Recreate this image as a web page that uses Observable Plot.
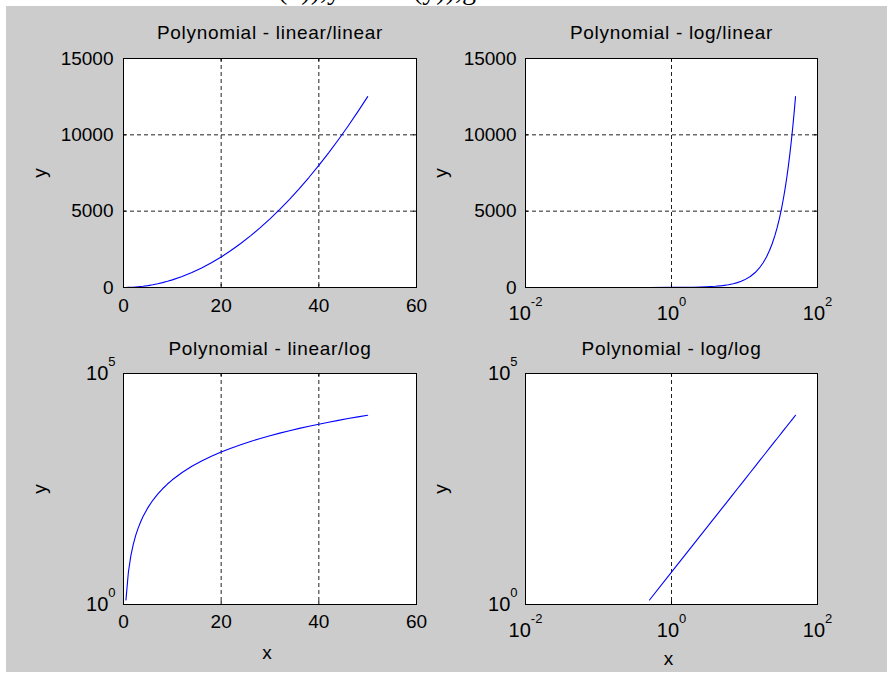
<!DOCTYPE html>
<html>
<head>
<meta charset="utf-8">
<script src="https://cdn.jsdelivr.net/npm/d3@7"></script>
<script src="https://cdn.jsdelivr.net/npm/@observablehq/plot@0.6"></script>
<style>
html, body { margin: 0; padding: 0; background: #fff; }
#page { position: relative; width: 887px; height: 673px; overflow: hidden; background: #fff; }
#grey { position: absolute; left: 6px; top: 6px; width: 881px; height: 666px; background: #cccccc; }
#page > svg { position: absolute; left: 0; top: 0; }
</style>
</head>
<body>
<div id="page">
  <div id="grey"></div>
  <svg id="cut" width="887" height="6" style="position:absolute;left:0;top:0;background:#fff">
    <text x="278" y="-1" font-family="Liberation Serif, Times New Roman, serif" font-size="28">(x)),y</text>
    <text x="413" y="-1" font-family="Liberation Serif, Times New Roman, serif" font-size="28">(y)),g</text>
  </svg>
</div>
<script>
// ---- data (y = polynomial of x) ----
const xValues = [0, 0.5, 1, 1.5, 2, 2.5, 3, 3.5, 4, 5, 6, 7, 8, 9, 10, 12, 14, 16, 18, 20, 22, 24, 26, 28, 30, 32, 34, 36, 38, 40, 42, 44, 46, 48, 50];
const yValues = [0, 1.25, 5, 11.25, 20, 31.25, 45, 61.25, 80, 125, 180, 245, 320, 405, 500, 720, 980, 1280, 1620, 2000, 2420, 2880, 3380, 3920, 4500, 5120, 5780, 6480, 7220, 8000, 8820, 9680, 10580, 11520, 12500];

const titles = ["Polynomial - linear/linear", "Polynomial - log/linear", "Polynomial - linear/log", "Polynomial - log/log"];
const linXTicks = [0, 20, 40, 60];
const logXTicks = [0.01, 1, 100];
const linYTicks = [0, 5000, 10000, 15000];
const logYTicks = [1, 100000];
const linXGrid = [20, 40];
const logXGrid = [1];
const linYGrid = [5000, 10000];
const logYGrid = [];

const data = xValues.map((x, i) => ({x, y: yValues[i]}));

const W = 887, H = 673;
const logFmt = d => "10^" + Math.round(Math.log10(d));
const linFmt = d => String(d);

function panel(o) {
  const ih = o.bottom - o.top, iw = o.right - o.left, t = 3;
  const xLog = o.xType === "log", yLog = o.yType === "log";
  const svg = Plot.plot({
    width: W, height: H,
    marginLeft: o.left, marginRight: W - o.right, marginTop: o.top, marginBottom: H - o.bottom,
    style: {background: "transparent", fontFamily: "Liberation Sans, Arial, sans-serif", fontSize: "19px", color: "#000", overflow: "visible"},
    x: {type: o.xType, domain: xLog ? [0.01, 100] : [0, 60]},
    y: {type: o.yType, domain: yLog ? [1, 100000] : [0, 15000]},
    marks: [
      Plot.frame({fill: "white"}),
      Plot.ruleX(xLog ? logXGrid : linXGrid, {x: d => d, stroke: "#222", strokeDasharray: "4,3"}),
      Plot.ruleY(yLog ? logYGrid : linYGrid, {y: d => d, stroke: "#222", strokeDasharray: "4,3"}),
      Plot.line(data, {x: "x", y: "y", stroke: "#0000ff", strokeWidth: 1.1,
        filter: d => (!xLog || d.x > 0) && (!yLog || d.y > 0)}),
      Plot.tickX(xLog ? logXTicks : linXTicks, {x: d => d, insetTop: ih - t, stroke: "#000"}),
      Plot.tickX(xLog ? logXTicks : linXTicks, {x: d => d, insetBottom: ih - t, stroke: "#000"}),
      Plot.tickY(yLog ? logYTicks : linYTicks, {y: d => d, insetRight: iw - t, stroke: "#000"}),
      Plot.tickY(yLog ? logYTicks : linYTicks, {y: d => d, insetLeft: iw - t, stroke: "#000"}),
      Plot.frame({stroke: "#000"}),
      Plot.axisX({ticks: xLog ? logXTicks : linXTicks, tickFormat: xLog ? logFmt : linFmt, tickSize: 0,
        tickPadding: o.xPad, label: null, fontSize: xLog ? 20 : 19}),
      Plot.axisY({ticks: yLog ? logYTicks : linYTicks, tickFormat: yLog ? logFmt : linFmt, tickSize: 0,
        tickPadding: o.yPad, label: null, fontSize: yLog ? 20 : 19}),
      Plot.text([o.title], {text: d => d, frameAnchor: "top", dy: o.titleDy, lineAnchor: "middle", fontSize: 19}),
      Plot.text(["y"], {text: d => d, frameAnchor: "left", dx: o.yLabelDx, rotate: -90, textAnchor: "middle", lineAnchor: "middle", fontSize: 19}),
      ...(o.xLabel ? [Plot.text(["x"], {text: d => d, frameAnchor: "bottom", dy: o.xLabelDy, dx: -3, textAnchor: "middle", lineAnchor: "middle", fontSize: 19})] : [])
    ]
  });
  // exponent formatting for "10^n" tick labels
  d3.select(svg).selectAll("text").each(function () {
    const s = this.textContent;
    if (titles.includes(s)) { d3.select(this).attr("letter-spacing", 0.7); return; }
    if (!s.includes("^") || this.childElementCount > 0) return;
    const [b, e] = s.split("^");
    const t = d3.select(this);
    t.text(null);
    t.append("tspan").text(b);
    t.append("tspan").text(e).attr("font-size", 13).attr("dy", -14);
  });
  document.getElementById("page").appendChild(svg);
}

panel({left: 123, right: 416, top: 58, bottom: 287, xType: "linear", yType: "linear", title: titles[0],
  xPad: 11, yPad: 10, titleDy: -25.5, yLabelDx: -84, xLabel: false});
panel({left: 525, right: 817, top: 58, bottom: 287, xType: "log", yType: "linear", title: titles[1],
  xPad: 18, yPad: 9, titleDy: -25.5, yLabelDx: -85, xLabel: false});
panel({left: 123, right: 416, top: 373, bottom: 604, xType: "linear", yType: "log", title: titles[2],
  xPad: 10, yPad: 8, titleDy: -25, yLabelDx: -84, xLabel: true, xLabelDy: 48});
panel({left: 525, right: 817, top: 373, bottom: 604, xType: "log", yType: "log", title: titles[3],
  xPad: 18, yPad: 8, titleDy: -25, yLabelDx: -85, xLabel: true, xLabelDy: 54});
</script>
</body>
</html>
